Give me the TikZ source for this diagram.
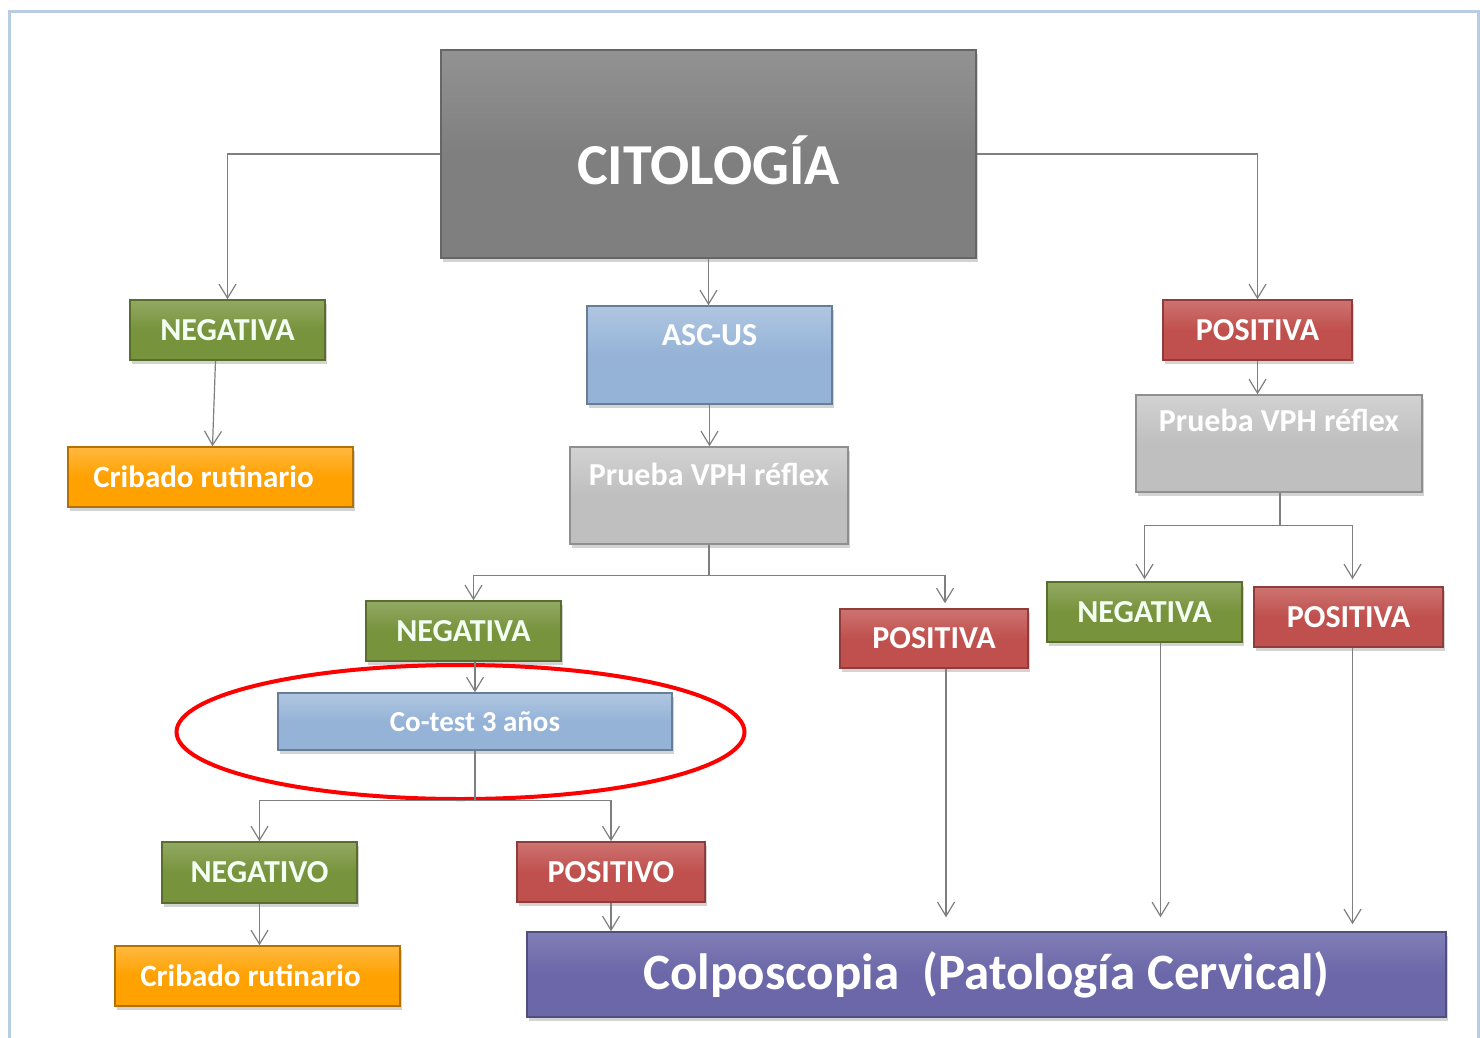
\documentclass[tikz,border=0pt]{standalone}
\usepackage{fontspec}
\setmainfont{Carlito}
\usetikzlibrary{arrows.meta,shadows,shapes.geometric}

\definecolor{framecol}{HTML}{B8CCE4}
\definecolor{linecol}{HTML}{7F7F7F}
\definecolor{citogray}{HTML}{7F7F7F}
\definecolor{greenbox}{HTML}{77933C}
\definecolor{orangebox}{HTML}{FFA100}
\definecolor{bluebox}{HTML}{95B3D7}
\definecolor{lgraybox}{HTML}{BFBFBF}
\definecolor{redbox}{HTML}{C0504D}
\definecolor{purplebox}{HTML}{6B67A9}

\tikzset{
  box/.style={rectangle, inner sep=0pt, line width=1.5pt, text=white,
    font=\fontsize{32}{32}\selectfont\bfseries,
    drop shadow={shadow xshift=2pt, shadow yshift=-4pt, opacity=.35}},
  citobox/.style={box, top color=citogray!85!white, bottom color=citogray, middle color=citogray, draw=citogray!80!black},
  negbox/.style={box, top color=greenbox!80!white, bottom color=greenbox, middle color=greenbox, draw=greenbox!75!black, text=green!5!white},
  cribbox/.style={box, top color=orangebox!75!white, bottom color=orangebox, middle color=orangebox, draw=orangebox!70!black, font=\fontsize{31}{31}\selectfont\bfseries},
  bluebx/.style={box, top color=bluebox!75!white, bottom color=bluebox, middle color=bluebox, draw=bluebox!70!black},
  vphbox/.style={box, top color=lgraybox!70!white, bottom color=lgraybox, middle color=lgraybox, draw=lgraybox!75!black},
  posbox/.style={box, top color=redbox!80!white, bottom color=redbox, middle color=redbox, draw=redbox!75!black},
  colpobox/.style={box, top color=purplebox!85!white, bottom color=purplebox, middle color=purplebox, draw=purplebox!75!black},
  toptext/.style={text height=21pt, text depth=#1},
  conn/.style={draw=linecol, line width=1.2pt, -{Straight Barb[length=14pt, width=17pt, line width=1.2pt]}}
}

\begin{document}
\begin{tikzpicture}[x=1pt, y=-1pt]
  \useasboundingbox (0,0) rectangle (1480,1038);
  % frame
  \draw[framecol, line width=3pt] (9,1045) -- (9,12) -- (1478,12) -- (1478,1045);
  % Nodes
  \node (cito) [citobox, minimum width=535pt, minimum height=208pt, font=\fontsize{58}{58}\selectfont\bfseries, text height=60pt, text depth=0pt] at (708.5, 154) {CITOLOGÍA};
  \node (neg1) [negbox, minimum width=195pt, minimum height=60pt] at (227.5, 330) {NEGATIVA};
  \node (crib1) [cribbox, minimum width=285pt, minimum height=60pt] at (210.5, 477) {Cribado rutinario\hspace*{14pt}};
  \node (ascus) [bluebx, minimum width=245pt, minimum height=98pt, toptext=41pt] at (709.5, 355) {ASC-US};
  \node (vph1) [vphbox, minimum width=278pt, minimum height=97pt, toptext=41pt] at (709, 495.5) {Prueba VPH réflex};
  \node (pos1) [posbox, minimum width=189pt, minimum height=60pt] at (1257.5, 330) {POSITIVA};
  \node (vph2) [vphbox, minimum width=286pt, minimum height=97pt, toptext=45pt] at (1279, 443.5) {Prueba VPH réflex};
  \node (neg2) [negbox, minimum width=195pt, minimum height=60pt] at (463.5, 631) {NEGATIVA};
  \node (cotest) [bluebx, minimum width=394pt, minimum height=57pt, font=\fontsize{29}{29}\selectfont\bfseries] at (475, 721.5) {Co-test 3 años};
  \node (pos2) [posbox, minimum width=188pt, minimum height=59pt] at (934, 638.5) {POSITIVA};
  \node (neg3) [negbox, minimum width=195pt, minimum height=60pt] at (1144.5, 612) {NEGATIVA};
  \node (pos3) [posbox, minimum width=189pt, minimum height=60pt] at (1348.5, 617) {POSITIVA};
  \node (negvo) [negbox, minimum width=195pt, minimum height=61pt] at (259.5, 872.5) {NEGATIVO};
  \node (posvo) [posbox, minimum width=188pt, minimum height=60pt] at (611, 872) {POSITIVO};
  \node (crib2) [cribbox, minimum width=285pt, minimum height=60pt] at (257.5, 976) {Cribado rutinario\hspace*{14pt}};
  \node (colpo) [colpobox, minimum width=919pt, minimum height=85pt, font=\fontsize{51}{51}\selectfont\bfseries] at (986.5, 974.5) {Colposcopia~~(Patología Cervical)};
  \node (ring) [ellipse, draw=red, line width=4pt, minimum width=568pt, minimum height=134pt] at (460.5, 732) {};
  % Arrow
  \draw[conn] (cito.west) -| (neg1.north);
  \draw[conn] (cito.east) -| (pos1.north);
  \draw[conn] (cito.south) -- (cito.south |- ascus.north);
  \draw[conn] ([xshift=-12pt]neg1.south) -- ([xshift=2pt]crib1.north);
  \draw[conn] (ascus.south) -- (ascus.south |- vph1.north);
  \draw[conn] (vph1.south) -- ++(0,31) -| ([xshift=10pt]neg2.north);
  \draw[conn, shorten >=5pt] (vph1.south) -- ++(0,31) -| ([xshift=11pt]pos2.north);
  \draw[conn] (pos1.south) -- (pos1.south |- vph2.north);
  \draw[conn, shorten >=2pt] ([xshift=1pt]vph2.south) -- ++(0,33) -| (neg3.north);
  \draw[conn, shorten >=7pt] ([xshift=1pt]vph2.south) -- ++(0,33) -| ([xshift=4pt]pos3.north);
  \draw[conn] (neg2.south -| cotest.north) -- (cotest.north);
  \draw[conn] (cotest.south) -- ++(0,50) -| (negvo.north);
  \draw[conn] (cotest.south) -- ++(0,50) -| (posvo.north);
  \draw[conn] (negvo.south) -- (negvo.south |- crib2.north);
  \draw[conn] (posvo.south) -- (posvo.south |- colpo.north);
  \draw[conn, shorten >=14pt] ([xshift=12pt]pos2.south) -- ([xshift=12pt]pos2.south |- colpo.north);
  \draw[conn, shorten >=14pt] ([xshift=16pt]neg3.south) -- ([xshift=16pt]neg3.south |- colpo.north);
  \draw[conn, shorten >=7pt] ([xshift=4pt]pos3.south) -- ([xshift=4pt]pos3.south |- colpo.north);
\end{tikzpicture}
\end{document}
